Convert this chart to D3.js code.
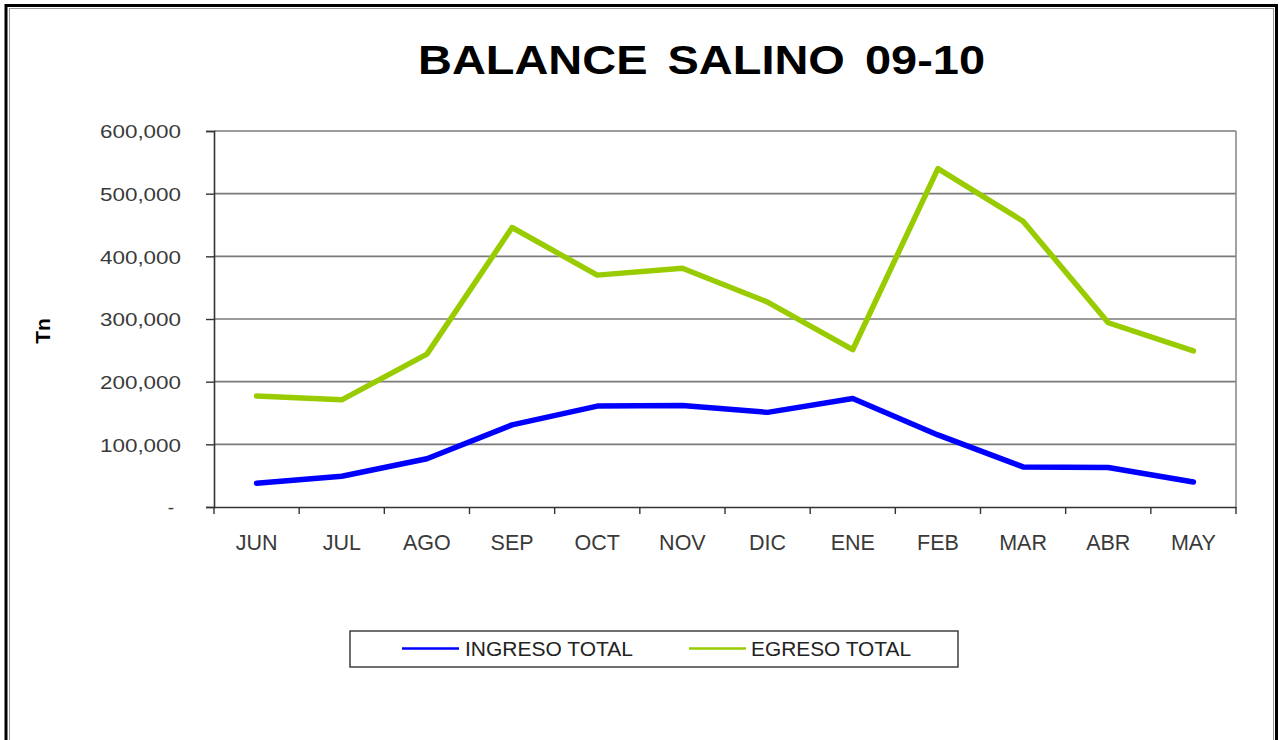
<!DOCTYPE html>
<html>
<head>
<meta charset="utf-8">
<script src="https://cdn.jsdelivr.net/npm/d3@7"></script>
<style>
  html, body { margin: 0; padding: 0; background: #fff; }
  svg { display: block; font-family: "Liberation Sans", Arial, sans-serif; }
</style>
</head>
<body>
<svg id="chart" width="1279" height="740"></svg>
<script>
const months = ["JUN","JUL","AGO","SEP","OCT","NOV","DIC","ENE","FEB","MAR","ABR","MAY"];
const ingresoTotal = [38000, 49000, 77000, 131000, 161000, 162000, 151000, 173000, 115000, 64000, 63000, 40000];
const egresoTotal = [177000, 171000, 244000, 446000, 370000, 381000, 327000, 251000, 540000, 456000, 294000, 249000];
const yTicks = [0, 100000, 200000, 300000, 400000, 500000, 600000];
const seriesNames = ["INGRESO TOTAL", "EGRESO TOTAL"];
const seriesColors = ["#0000ff", "#99cc00"];
const titleText = "BALANCE SALINO 09-10";
const yAxisTitle = "Tn";

const svg = d3.select("#chart");

// outer frame
svg.append("rect").attr("x", 6).attr("y", 5.5).attr("width", 1270.5).attr("height", 760)
  .attr("fill", "none").attr("stroke", "#000").attr("stroke-width", 3);
svg.append("rect").attr("x", 9.5).attr("y", 8.5).attr("width", 1264).attr("height", 760)
  .attr("fill", "none").attr("stroke", "#999").attr("stroke-width", 1);

const plot = { left: 214, right: 1236, top: 131, bottom: 507 };

const x = d3.scaleBand().domain(months).range([plot.left, plot.right]).paddingInner(0).paddingOuter(0);
const y = d3.scaleLinear().domain([0, 600000]).range([plot.bottom, plot.top]);

function fitText(sel, len) {
  sel.attr("textLength", len).attr("lengthAdjust", "spacingAndGlyphs");
}

// title
svg.append("text").attr("x", 418).attr("y", 74)
  .attr("font-size", 40).attr("font-weight", "bold").attr("fill", "#000")
  .attr("word-spacing", 6)
  .text(titleText).call(fitText, 567);

// gridlines
const grid = svg.append("g");
grid.selectAll("line").data(yTicks.filter(d => d > 0)).join("line")
  .attr("x1", plot.left).attr("x2", plot.right)
  .attr("y1", d => y(d)).attr("y2", d => y(d))
  .attr("stroke", "#7a7a7a").attr("stroke-width", 1.6);

// right border of plot area
svg.append("line").attr("x1", plot.right).attr("x2", plot.right)
  .attr("y1", plot.top).attr("y2", plot.bottom)
  .attr("stroke", "#8c8c8c").attr("stroke-width", 1.6);

// y axis
const yAxis = d3.axisLeft(y).tickValues(yTicks).tickSize(8).tickPadding(22)
  .tickFormat(d => d === 0 ? "-" : d3.format(",")(d));
const gy = svg.append("g").attr("transform", `translate(${plot.left},0)`).call(yAxis);
gy.select(".domain").attr("stroke", "#333").attr("stroke-width", 1.6);
gy.selectAll(".tick line").attr("stroke", "#333").attr("stroke-width", 1.4);
gy.selectAll(".tick text").attr("font-size", 19).attr("fill", "#3a3a3a")
  .attr("font-family", "'Liberation Sans', Arial, sans-serif")
  .attr("dy", "0.36em")
  .each(function(d) { if (d !== 0) d3.select(this).call(fitText, 81); })
  .attr("x", function(d) { return d === 0 ? -40 : -33; });

// x axis
const xAxis = d3.axisBottom(x).tickSize(0).tickPadding(28);
const gx = svg.append("g").attr("transform", `translate(0,${plot.bottom})`).call(xAxis);
gx.select(".domain").attr("stroke", "#333").attr("stroke-width", 1.6);
gx.selectAll(".tick text").attr("font-size", 21.5).attr("fill", "#3a3a3a")
  .attr("font-family", "'Liberation Sans', Arial, sans-serif");
// tick marks at band boundaries
const bounds = months.map(m => x(m)).concat([plot.right]);
gx.selectAll(".bound").data(bounds).join("line").attr("class", "bound")
  .attr("x1", d => d).attr("x2", d => d).attr("y1", 0).attr("y2", 7)
  .attr("stroke", "#333").attr("stroke-width", 1.4);

// y axis title
svg.append("text")
  .attr("transform", `translate(50,331) rotate(-90)`)
  .attr("text-anchor", "middle")
  .attr("font-size", 21).attr("font-weight", "bold").attr("fill", "#000")
  .text(yAxisTitle);

// lines
const line = d3.line().x((d, i) => x(months[i]) + x.bandwidth() / 2).y(d => y(d));
const data = [ingresoTotal, egresoTotal];
svg.append("g").selectAll("path").data(data).join("path")
  .attr("d", d => line(d))
  .attr("fill", "none")
  .attr("stroke", (d, i) => seriesColors[i])
  .attr("stroke-width", 5.5)
  .attr("stroke-linejoin", "round")
  .attr("stroke-linecap", "round");

// legend
const lg = svg.append("g");
lg.append("rect").attr("x", 350).attr("y", 631).attr("width", 608).attr("height", 36)
  .attr("fill", "#fff").attr("stroke", "#333").attr("stroke-width", 1.4);
const legendItems = [
  { lx1: 402, lx2: 459, tx: 465, tl: 168 },
  { lx1: 689, lx2: 746, tx: 751, tl: 160 }
];
legendItems.forEach((it, i) => {
  lg.append("line").attr("x1", it.lx1).attr("x2", it.lx2).attr("y1", 648.5).attr("y2", 648.5)
    .attr("stroke", seriesColors[i]).attr("stroke-width", 2.5);
  lg.append("text").attr("x", it.tx).attr("y", 655.5)
    .attr("font-size", 19.5).attr("fill", "#222")
    .text(seriesNames[i]).call(fitText, it.tl);
});
</script>
</body>
</html>
